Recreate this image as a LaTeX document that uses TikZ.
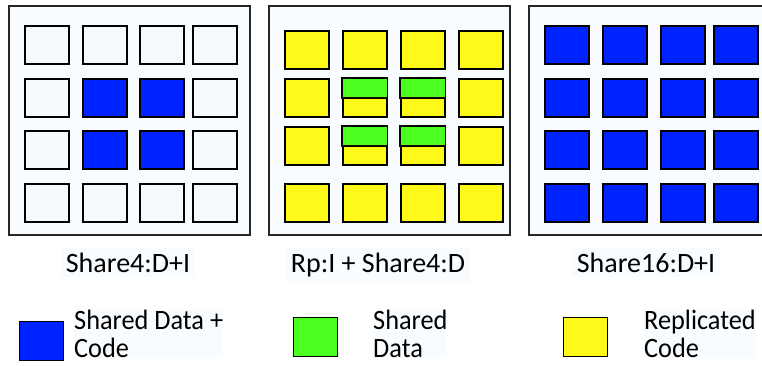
\documentclass[tikz,border=0pt]{standalone}
\usepackage{fontspec}
\setmainfont{Carlito}
\newfontfamily\keyfont[FakeStretch=0.94]{Carlito}
\definecolor{sblue}{RGB}{0,34,255}
\definecolor{sgreen}{RGB}{76,255,32}
\definecolor{syellow}{RGB}{255,249,26}
\definecolor{tint}{RGB}{249,252,254}
\definecolor{pale}{RGB}{245,251,253}
\begin{document}
\begin{tikzpicture}[x=1pt,y=-1pt,
    cell/.style = {draw=black, line width=1.6pt, fill=pale, inner sep=0pt,
        minimum width=44pt, minimum height=38pt, anchor=north west},
    panel/.style = {draw=black!85, line width=1.3pt, fill=tint},
    caption/.style = {font=\fontsize{28}{28}\selectfont, anchor=base, fill=tint, inner sep=5pt},
    keybox/.style = {draw=black, line width=1.3pt, minimum width=44pt,
        minimum height=39pt, inner sep=0pt, anchor=north west},
    keytext/.style = {font=\keyfont\fontsize{28}{28}\selectfont, align=left, anchor=north west,
        fill=tint, inner sep=0pt}]
\useasboundingbox (0,0) rectangle (762,365);
\fill[white] (0,0) rectangle (762,365);
\begin{scope}
\clip (0,0) rectangle (762,365);
% three chips
\draw[panel] (9,6) rectangle (250,235);
\draw[panel] (269,6) rectangle (510,235);
\draw[panel] (529,6) rectangle (775,235);
% Share4:D+I
\foreach \c/\x in {1/24,2/82,3/139,4/192}
  \foreach \r/\y in {1/25,2/78,3/130,4/183}
    \node[cell] (a-\r-\c) at (\x,\y) {};
\foreach \r/\c in {2/2,2/3,3/2,3/3}
  \node[cell, fill=sblue] at (a-\r-\c.north west) {};
% Rp:I + Share4:D
\foreach \c/\x in {1/284,2/342,3/400,4/458}
  \foreach \r/\y in {1/30,2/78,3/126,4/183}
    \node[cell, fill=syellow] (b-\r-\c) at (\x,\y) {};
\foreach \r/\c in {2/2,2/3,3/2,3/3}
  \draw[line width=1.6pt, draw=black, fill=sgreen] (b-\r-\c.north west) rectangle (b-\r-\c.east);
% Share16:D+I
\foreach \c/\x in {1/544,2/602,3/660,4/713}
  \foreach \r/\y in {1/25,2/78,3/130,4/183}
    \node[cell, fill=sblue] (c-\r-\c) at (\x,\y) {};
\end{scope}
% captions
\node[caption] (capa) at (128,272) {Share4:D+I};
\node[caption] (capb) at (378,272) {Rp:I + Share4:D};
\node[caption] (capc) at (646,272) {Share16:D+I};
% legend
\node[keybox, fill=sblue] (kblue) at (19,321) {};
\node[keytext] (tblue) at (74,310) {Shared Data +\\Code};
\node[keybox, fill=sgreen] (kgreen) at (293,317) {};
\node[keytext] (tgreen) at (373,310) {Shared\\Data};
\node[keybox, fill=syellow] (kyellow) at (563,317) {};
\node[keytext] (tyellow) at (644,310) {Replicated\\Code};
\end{tikzpicture}
\end{document}
